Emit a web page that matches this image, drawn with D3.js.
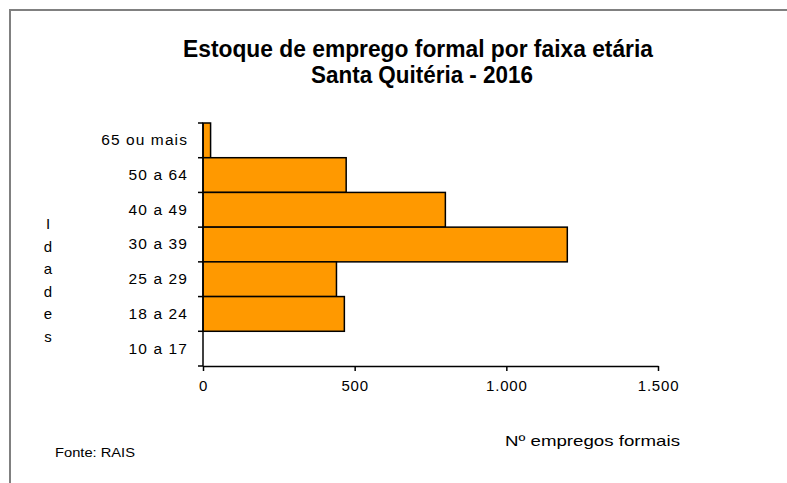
<!DOCTYPE html>
<html>
  <head>
    <meta charset="utf-8">
    <title>Estoque de emprego formal por faixa etária</title>
    <script src="https://d3js.org/d3.v7.min.js"></script>
    <style>
      body { margin: 0; background: #fff; }
      svg text { font-family: "Liberation Sans", Arial, sans-serif; fill: #000; }
    </style>
  </head>
  <body>
    <div class="chart"></div>
    <script>

    // faixas etárias (top to bottom) and number of formal jobs
    var faixas = ["65 ou mais", "50 a 64", "40 a 49", "30 a 39", "25 a 29", "18 a 24", "10 a 17"];
    var empregos = [25, 472, 799, 1201, 440, 466, 0];
    var xTicks = [0, 500, 1000, 1500];

    var data = faixas.map(function(f, i) { return {faixa: f, valor: empregos[i]}; });

    var W = 787, H = 483;
    var margin = {top: 123, left: 203, right: 129, bottom: 117};
    var width = W - margin.left - margin.right,
        height = H - margin.top - margin.bottom;

    var br = d3.formatLocale({decimal: ",", thousands: ".", grouping: [3], currency: ["R$", ""]});

    var svg = d3.select(".chart").append("svg").attr("width", W).attr("height", H);

    // frame (only top and left edges visible)
    svg.append("path").attr("d", "M10," + H + "V10H" + W)
      .attr("fill", "none").attr("stroke", "#808080").attr("stroke-width", 2);

    // title: condensed look, so bigger font squeezed into the measured width
    svg.append("text").attr("x", 183).attr("y", 57)
      .attr("font-size", "23px").attr("font-weight", "bold")
      .attr("textLength", 470).attr("lengthAdjust", "spacingAndGlyphs")
      .text("Estoque  de emprego formal por faixa etária");
    svg.append("text").attr("x", 311).attr("y", 83)
      .attr("font-size", "23px").attr("font-weight", "bold")
      .attr("textLength", 222).attr("lengthAdjust", "spacingAndGlyphs")
      .text("Santa Quitéria - 2016");

    var g = svg.append("g").attr("transform", "translate(" + margin.left + "," + margin.top + ")");

    var x = d3.scaleLinear().domain([0, 1500]).range([0, width]);
    var y = d3.scaleBand().domain(faixas).range([0, height]).padding(0);

    g.selectAll(".bar")
      .data(data)
      .enter()
      .append("rect")
      .attr("class", "bar")
      .attr("x", 0)
      .attr("y", function(d) { return y(d.faixa); })
      .attr("width", function(d) { return x(d.valor); })
      .attr("height", y.bandwidth())
      .attr("fill", function(d) { return d.valor > 0 ? "#FF9900" : "none"; })
      .attr("stroke", function(d) { return d.valor > 0 ? "#000" : "none"; })
      .attr("stroke-width", 1.5);

    // x axis
    var xAxis = g.append("g").attr("transform", "translate(0," + height + ")")
      .call(d3.axisBottom(x).tickValues(xTicks).tickFormat(br.format(",d")).tickSizeInner(5).tickSizeOuter(0).tickPadding(9));
    xAxis.select(".domain").attr("stroke", "#000").attr("stroke-width", 1.5);
    xAxis.selectAll(".tick line").attr("stroke", "#000").attr("stroke-width", 1.5);
    xAxis.selectAll("text").attr("font-size", "15px").attr("letter-spacing", "0.8px")
      .attr("font-family", "Liberation Sans, Arial, sans-serif").attr("fill", "#000");

    // y axis: labels centred in bands, ticks at band boundaries
    var yAxis = g.append("g")
      .call(d3.axisLeft(y).tickSize(0).tickPadding(15));
    yAxis.select(".domain").remove();
    yAxis.selectAll("text").attr("font-size", "15.5px").attr("letter-spacing", "1.1px")
      .attr("font-family", "Liberation Sans, Arial, sans-serif").attr("fill", "#000");

    var bounds = faixas.map(function(f) { return y(f); }).concat([height]);
    g.append("line").attr("x1", 0).attr("x2", 0).attr("y1", 0).attr("y2", height)
      .attr("stroke", "#000").attr("stroke-width", 1.5);
    g.selectAll(".ytick").data(bounds).enter().append("line")
      .attr("class", "ytick")
      .attr("x1", -5).attr("x2", 0)
      .attr("y1", function(d) { return d; }).attr("y2", function(d) { return d; })
      .attr("stroke", "#000").attr("stroke-width", 1.5);

    // vertical y title, one letter per line
    svg.append("g").selectAll("text")
      .data("Idades".split(""))
      .enter().append("text")
      .attr("x", 48).attr("y", function(d, i) { return 229 + i * 22.6; })
      .attr("text-anchor", "middle").attr("font-size", "15px")
      .text(function(d) { return d; });

    svg.append("text").attr("x", 505).attr("y", 446)
      .attr("font-size", "15px").attr("textLength", 175).attr("lengthAdjust", "spacingAndGlyphs")
      .text("Nº empregos formais");

    svg.append("text").attr("x", 55).attr("y", 457)
      .attr("font-size", "13px").attr("textLength", 80).attr("lengthAdjust", "spacingAndGlyphs")
      .text("Fonte:  RAIS");

    </script>
  </body>
</html>
